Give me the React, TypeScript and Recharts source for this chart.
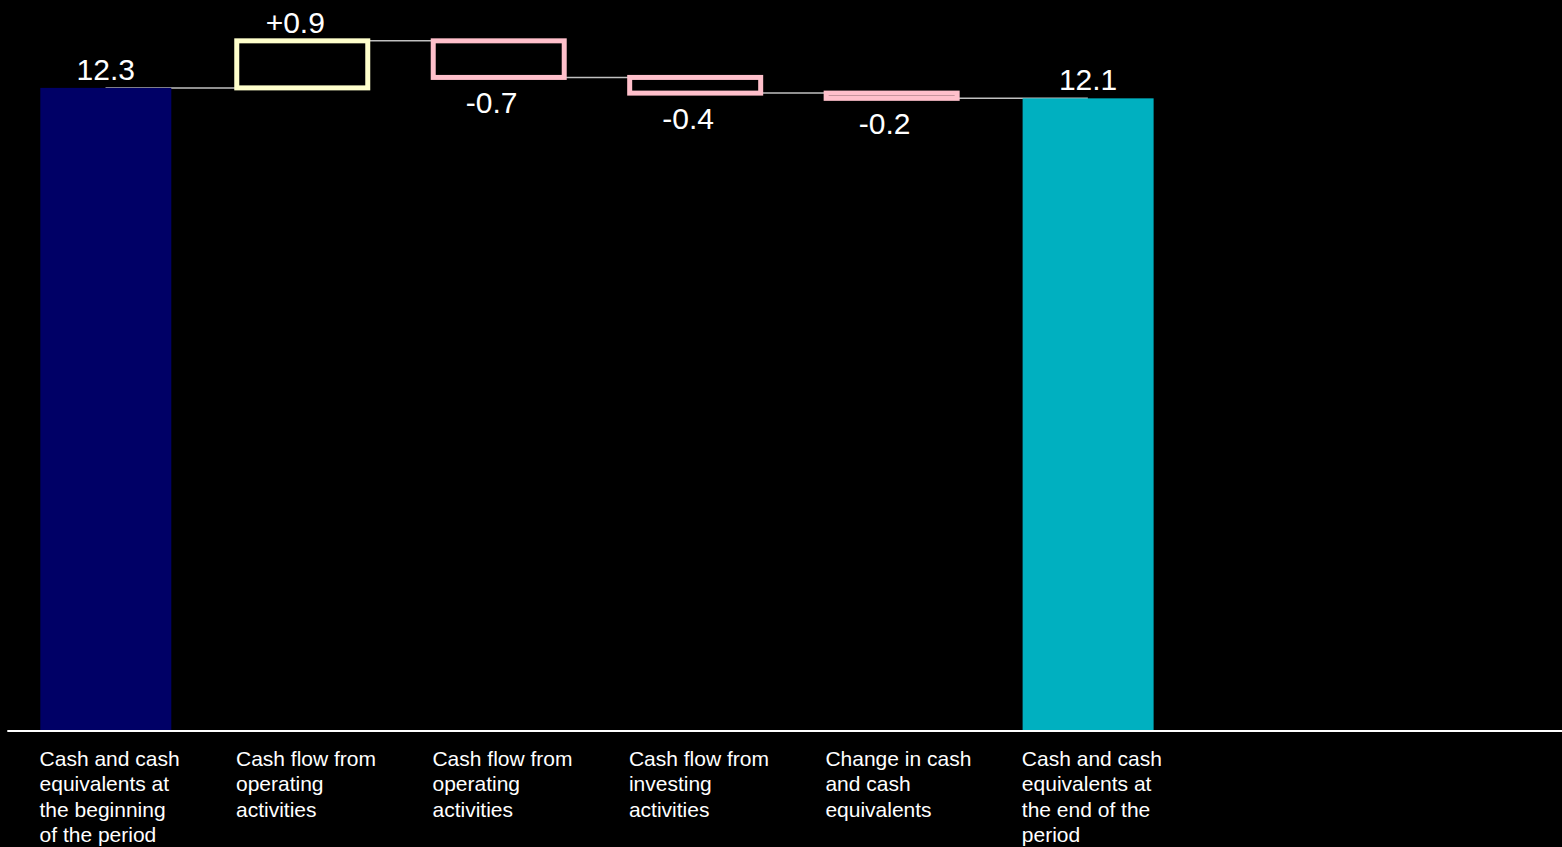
import React from "react";
import { ComposedChart, Bar, Line, XAxis, YAxis, LabelList } from "recharts";

// ---- Data ----
const categoryLines: string[][] = [
  ["Cash and cash", "equivalents at", "the beginning", "of the period"],
  ["Cash flow from", "operating", "activities"],
  ["Cash flow from", "operating", "activities"],
  ["Cash flow from", "investing", "activities"],
  ["Change in cash", "and cash", "equivalents"],
  ["Cash and cash", "equivalents at", "the end of the", "period"],
  [],
  [],
];
const startValue = 12.3;
const deltaValues = [0.9, -0.7, -0.3, -0.1];
const endValue = 12.1;
const valueLabels = ["12.3", "+0.9", "-0.7", "-0.4", "-0.2", "12.1"];
const yDomain = [0, 14];

// ---- Build rows for the library ----
type Row = { id: number; range: number[] | null; kind: string; level: number | null };
const rows: Row[] = [];
let running = startValue;
rows.push({ id: 0, range: [0, startValue], kind: "start", level: startValue });
deltaValues.forEach((d, i) => {
  const lo = Math.min(running, running + d);
  const hi = Math.max(running, running + d);
  running = running + d;
  rows.push({ id: i + 1, range: [lo, hi], kind: d >= 0 ? "up" : "down", level: running });
});
rows.push({ id: rows.length, range: [0, endValue], kind: "end", level: endValue });
while (rows.length < categoryLines.length) {
  rows.push({ id: rows.length, range: null, kind: "empty", level: null });
}

const FONT = "'Liberation Sans', Arial, Helvetica, sans-serif";
const NAVY = "#000066";
const TEAL = "#00B0C0";
const UP = "#FFFFCC";
const DOWN = "#FFC0CB";

const CHART_W = 1589;
const CHART_H = 860;
const MARGIN = { top: 0, right: 10, bottom: 0, left: 7.3 };
const XAXIS_H = 128;

const WaterfallShape = (props: any) => {
  const { x, y, width, height, payload } = props;
  if (!payload || payload.range == null) return null;
  const top = Math.min(y, y + height);
  const h = Math.abs(height);
  if (payload.kind === "start") return <rect x={x} y={top} width={width} height={h} fill={NAVY} />;
  if (payload.kind === "end") return <rect x={x} y={top} width={width} height={h} fill={TEAL} />;
  const color = payload.kind === "up" ? UP : DOWN;
  return <rect x={x} y={top} width={width} height={h} fill="#000000" stroke={color} strokeWidth={5} />;
};

const EmptyShape = () => null;

const renderValueLabel = (props: any) => {
  const { x, y, width, height, index } = props;
  const text = valueLabels[index];
  const row = rows[index];
  if (!text || !row) return null;
  const top = Math.min(y, y + height);
  const bottom = Math.max(y, y + height);
  const isTotal = row.kind === "start" || row.kind === "end";
  const cx = x + width / 2 + (isTotal ? 0 : -7);
  const ty = row.kind === "down" ? bottom + 36 : top - 8;
  return (
    <text key={`vl-${index}`} x={cx} y={ty} textAnchor="middle" fill="#ffffff" fontSize={30} fontFamily={FONT}>
      {text}
    </text>
  );
};

const CategoryTick = (props: any) => {
  const { x, y, payload } = props;
  const lines = categoryLines[payload.value] || [];
  if (!lines.length) return null;
  const lx = x - 66;
  return (
    <text x={lx} y={y + 32.7} fill="#ffffff" fontSize={21} fontFamily={FONT} textAnchor="start">
      {lines.map((l, i) => (
        <tspan key={i} x={lx} dy={i === 0 ? 0 : 25.5}>
          {l}
        </tspan>
      ))}
    </text>
  );
};

const layerStyle: React.CSSProperties = { position: "absolute", left: 0, top: -1 };

export default function App() {
  return (
    <div
      style={{
        position: "fixed",
        left: 0,
        top: 0,
        width: 1562,
        height: 847,
        background: "#000000",
        overflow: "hidden",
      }}
    >
      {/* connector layer (underneath the bars) */}
      <div style={layerStyle}>
        <ComposedChart width={CHART_W} height={CHART_H} data={rows} margin={MARGIN} barCategoryGap={0}>
          <XAxis dataKey="id" type="category" height={XAXIS_H} tick={false} axisLine={false} tickLine={false} />
          <YAxis hide domain={yDomain} type="number" allowDataOverflow />
          <Bar dataKey="range" barSize={131} shape={<EmptyShape />} isAnimationActive={false} />
          <Line
            type="stepAfter"
            dataKey="level"
            stroke="#c0c0c0"
            strokeWidth={1.5}
            dot={false}
            activeDot={false}
            isAnimationActive={false}
          />
        </ComposedChart>
      </div>
      {/* bars, labels and axis */}
      <div style={layerStyle}>
        <ComposedChart width={CHART_W} height={CHART_H} data={rows} margin={MARGIN} barCategoryGap={0}>
          <XAxis
            dataKey="id"
            type="category"
            height={XAXIS_H}
            axisLine={{ stroke: "#ffffff", strokeWidth: 2 }}
            tickLine={false}
            tickSize={0}
            tick={<CategoryTick />}
            interval={0}
          />
          <YAxis hide domain={yDomain} type="number" allowDataOverflow />
          <Bar dataKey="range" barSize={131} shape={<WaterfallShape />} isAnimationActive={false}>
            <LabelList dataKey="range" content={renderValueLabel} />
          </Bar>
        </ComposedChart>
      </div>
    </div>
  );
}
